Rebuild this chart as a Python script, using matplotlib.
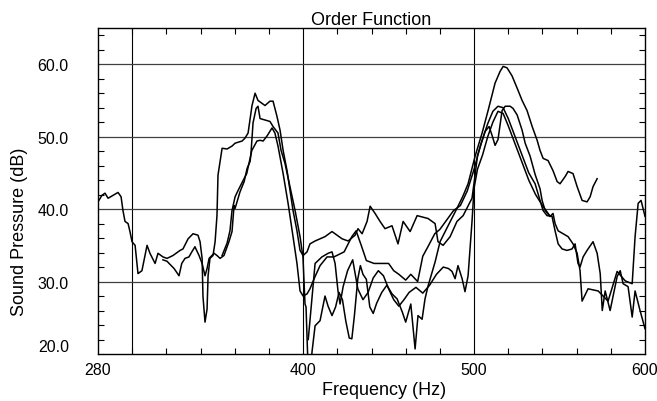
import matplotlib
matplotlib.use("Agg")
import matplotlib.pyplot as plt
from matplotlib.ticker import FormatStrFormatter, MultipleLocator, FixedLocator
import numpy as np

plt.rcParams['font.family'] = ['Liberation Sans', 'DejaVu Sans']

# curve A (starts at 280 Hz)
freq_a = [280.0, 282.3, 284.1, 285.9, 288.8, 291.7, 293.5, 294.6, 295.8, 297.6, 298.7, 299.9, 301.7, 303.4,
          305.7, 308.7, 310.4, 313.4, 315.1, 318.0, 320.4, 323.9, 328.0, 329.7, 332.7, 335.6, 338.5, 339.7,
          340.9, 341.4, 342.6, 343.8, 344.4, 345.5, 347.3, 348.5, 349.6, 350.2, 351.4, 352.6, 355.5, 358.4,
          360.2, 364.3, 366.0, 367.8, 368.9, 370.1, 371.9, 373.6, 376.0, 377.7, 380.6, 382.4, 384.7, 386.5,
          388.3, 390.6, 392.3, 394.1, 396.4, 398.2, 400.0, 402.3, 404.0, 407.0, 409.9, 412.8, 416.9, 419.8,
          422.8, 426.3, 430.4, 432.1, 434.5, 437.4, 439.2, 442.1, 445.0, 447.9, 452.0, 455.5, 458.5, 462.6,
          466.7, 473.1, 477.2, 478.9, 481.9, 486.0, 490.0, 493.6, 498.8, 500.5, 502.0, 504.7, 506.4, 508.8,
          510.5, 512.3, 514.0, 516.4, 518.2, 521.1, 522.8, 525.2, 528.1, 529.9, 532.8, 535.7, 538.6, 539.8,
          541.6, 544.5, 546.2, 547.4, 549.2, 552.1, 555.0, 557.9, 560.3, 562.0, 563.2, 566.7, 572.6, 578.4,
          583.7, 588.4, 592.5, 594.2, 596.0, 597.7, 600.0]
spl_a = [41.0, 41.9, 42.2, 41.5, 41.9, 42.3, 41.7, 39.8, 38.3, 38.0, 36.9, 35.5, 35.0, 31.1,
         31.5, 35.0, 33.9, 32.5, 33.9, 33.4, 33.2, 33.6, 34.3, 34.5, 35.9, 36.6, 36.4, 35.5,
         33.2, 28.0, 24.4, 26.2, 30.8, 33.2, 33.6, 35.5, 39.1, 44.7, 46.6, 48.4, 48.3, 48.7,
         49.1, 49.4, 49.8, 50.5, 52.3, 54.3, 56.0, 55.0, 54.6, 54.3, 54.9, 54.9, 52.8, 50.9,
         48.1, 45.3, 42.6, 39.8, 37.0, 34.3, 33.6, 34.1, 35.2, 35.6, 35.9, 36.2, 36.9, 36.4,
         35.9, 35.6, 36.4, 37.3, 36.6, 38.3, 40.4, 39.4, 38.3, 37.3, 37.7, 35.2, 38.3, 36.9,
         39.1, 38.7, 38.0, 35.5, 35.0, 36.2, 38.3, 39.1, 41.5, 44.5, 47.4, 49.4, 50.7, 51.4,
         50.2, 48.8, 49.6, 53.6, 54.2, 54.2, 53.9, 53.0, 50.9, 49.1, 47.3, 44.8, 42.8, 41.2,
         39.8, 39.0, 39.4, 38.0, 37.0, 36.6, 36.2, 35.2, 33.9, 31.5, 27.3, 29.0, 28.7, 27.3,
         31.4, 30.1, 29.7, 36.2, 40.8, 41.2, 39.0]

# curve B (tallest second peak, ends near 572 Hz)
freq_b = [318.0, 320.4, 321.6, 324.5, 327.4, 329.0, 330.9, 333.2, 334.9, 336.7, 339.1, 340.9, 342.6, 343.8,
          345.0, 347.9, 349.6, 351.4, 353.7, 356.6, 358.4, 359.6, 360.2, 363.1, 365.5, 367.2, 369.0, 369.5,
          370.7, 372.5, 373.6, 374.8, 377.7, 380.6, 382.4, 385.3, 387.1, 389.4, 392.3, 395.3, 398.2, 399.9,
          401.1, 401.7, 402.9, 404.0, 405.2, 407.0, 409.9, 412.8, 414.6, 416.9, 419.0, 421.0, 423.0, 425.0,
          427.0, 428.5, 430.0, 432.0, 433.5, 435.0, 437.0, 439.0, 441.0, 443.0, 446.0, 449.0, 452.0, 455.0,
          458.0, 460.0, 463.0, 465.5, 467.2, 469.6, 471.3, 473.1, 477.2, 480.1, 484.8, 490.0, 493.5, 496.5,
          500.6, 504.7, 508.2, 512.3, 515.2, 517.0, 519.3, 522.2, 525.2, 528.1, 531.0, 534.0, 536.9, 538.6,
          540.4, 543.3, 546.2, 548.6, 550.3, 553.3, 555.0, 557.9, 560.3, 563.2, 566.1, 567.9, 569.6, 572.0]
spl_b = [33.0, 32.8, 32.5, 31.8, 30.8, 32.5, 33.2, 33.4, 34.1, 34.8, 33.6, 32.5, 30.8, 31.8,
         33.2, 33.9, 33.6, 33.2, 33.6, 35.5, 36.9, 40.5, 40.1, 42.4, 43.8, 45.6, 46.6, 47.7,
         51.9, 53.9, 54.2, 52.5, 52.3, 52.1, 51.4, 50.5, 48.1, 46.3, 43.1, 39.8, 36.2, 33.4,
         26.9, 26.5, 18.0, 16.0, 20.3, 23.9, 24.6, 28.0, 26.6, 25.3, 26.5, 28.5, 27.5, 24.5,
         22.2, 22.1, 25.3, 30.4, 32.2, 31.0, 30.3, 26.5, 25.6, 27.0, 28.5, 29.5, 28.3, 27.6,
         25.8, 24.4, 26.9, 20.7, 25.3, 24.8, 27.6, 29.4, 32.7, 35.5, 37.7, 40.1, 41.8, 43.5,
         47.3, 50.5, 53.6, 57.4, 59.0, 59.7, 59.5, 58.4, 56.7, 55.0, 53.6, 51.4, 49.5, 48.1,
         47.0, 46.7, 45.3, 43.8, 43.5, 44.5, 45.2, 44.9, 43.1, 41.2, 41.0, 41.7, 43.1, 44.2]

# curve C (third first-peak curve, runs to 600 Hz)
freq_c = [352.6, 355.5, 357.2, 358.4, 360.2, 362.0, 365.0, 367.0, 370.0, 373.0, 374.8, 376.6, 378.9, 381.8,
          383.5, 385.3, 388.3, 391.2, 394.1, 396.4, 398.2, 400.0, 402.3, 404.0, 407.0, 409.9, 414.0, 418.0,
          424.0, 428.5, 431.0, 434.0, 437.0, 441.5, 450.0, 453.0, 456.0, 460.0, 463.0, 467.0, 470.0, 473.0,
          477.0, 480.0, 484.0, 488.0, 492.0, 496.0, 500.0, 504.0, 508.0, 511.0, 514.0, 517.0, 520.0, 524.0,
          528.0, 532.0, 535.7, 538.6, 540.4, 542.7, 545.6, 547.4, 549.2, 551.5, 554.4, 557.3, 559.1, 560.8,
          562.0, 563.8, 566.1, 569.6, 572.0, 573.8, 575.0, 576.7, 579.6, 583.7, 585.5, 587.2, 590.1, 592.5,
          594.2, 597.1, 600.0]
spl_c = [33.6, 35.3, 37.0, 39.8, 41.7, 42.6, 44.0, 44.9, 48.1, 49.4, 49.5, 49.4, 50.1, 51.2,
         50.5, 48.7, 44.9, 40.8, 36.2, 32.5, 28.7, 28.0, 28.3, 29.0, 30.7, 32.2, 33.4, 33.4,
         34.1, 36.2, 37.0, 35.0, 32.9, 32.5, 32.5, 31.5, 31.0, 30.2, 31.0, 30.0, 33.5, 34.8,
         36.6, 37.2, 38.5, 39.8, 40.5, 42.5, 45.5, 49.0, 51.8, 53.5, 54.2, 54.0, 52.5, 50.0,
         47.5, 45.0, 43.5, 41.2, 39.8, 39.1, 39.0, 37.0, 35.2, 34.5, 34.3, 34.5, 35.2, 32.5,
         32.0, 33.4, 34.3, 35.5, 33.9, 31.1, 26.0, 28.7, 26.0, 30.7, 31.5, 29.7, 29.3, 25.1,
         28.7, 26.0, 23.5]

# curve D (starts near 400 Hz, merges near 545 Hz)
freq_d = [403.0, 407.0, 411.0, 414.6, 416.9, 418.7, 420.4, 421.6, 423.4, 426.0, 429.0, 432.0, 435.0, 438.0,
          441.0, 444.0, 447.0, 450.0, 453.0, 456.0, 459.0, 462.0, 466.0, 470.0, 474.0, 478.0, 482.0, 485.0,
          487.1, 488.9, 490.6, 493.0, 494.7, 496.5, 498.8, 500.0, 502.0, 505.0, 508.0, 511.0, 514.0, 517.0,
          520.0, 524.0, 528.0, 532.0, 536.0, 540.0, 544.5]
spl_d = [22.0, 32.5, 33.4, 33.9, 34.1, 32.5, 28.7, 26.9, 29.3, 31.5, 33.0, 29.0, 27.5, 28.5,
         30.5, 31.5, 30.8, 29.0, 27.5, 26.6, 27.5, 28.5, 29.2, 28.4, 29.5, 31.0, 32.0, 31.8,
         31.4, 30.4, 32.2, 30.4, 28.6, 30.8, 38.3, 42.9, 45.5, 47.5, 50.0, 52.0, 53.5, 53.2,
         51.5, 49.0, 46.5, 44.0, 42.0, 40.5, 39.0]

xgrid = [300, 400, 500]
ygrid = [30, 40, 50, 60]
xticks = [280, 400, 500, 600]
yticks = [20, 30, 40, 50, 60]

fig = plt.figure(figsize=(6.57, 4.02), dpi=100)
ax = fig.add_axes([98/657, 1-355/402, 547/657, 326/402])

for v in xgrid:
    ax.axvline(v, color='black', lw=0.8, zorder=1)
for v in ygrid:
    ax.axhline(v, color='#404040', lw=0.9, zorder=1)

for f, s in [(freq_a, spl_a), (freq_b, spl_b), (freq_c, spl_c), (freq_d, spl_d)]:
    ax.plot(f, s, color='black', lw=1.1, zorder=2)

ax.set_xlim(280, 600)
ax.set_ylim(20, 65)
ax.xaxis.set_major_locator(FixedLocator(xticks))
ax.xaxis.set_minor_locator(FixedLocator(list(range(300, 600, 20))))
ax.yaxis.set_major_locator(FixedLocator(yticks))
ax.yaxis.set_minor_locator(MultipleLocator(2))
ax.yaxis.set_major_formatter(FormatStrFormatter('%.1f'))

ax.tick_params(which='both', direction='in', top=True, right=True, width=0.8, colors='black')
ax.tick_params(which='major', length=0, labelsize=11.5)
ax.tick_params(axis='y', which='major', pad=21)
ax.tick_params(axis='x', which='major', pad=6)
ax.tick_params(which='minor', length=4)
ax.tick_params(axis='x', which='minor', top=True, bottom=True)
ax.get_yticklabels()[0].set_verticalalignment('bottom')

for sp in ax.spines.values():
    sp.set_linewidth(1.0)
    sp.set_color('black')

ax.set_xlabel('Frequency (Hz)', fontsize=13)
ax.set_ylabel('Sound Pressure (dB)', fontsize=13)
ax.xaxis.set_label_coords(0.523, -0.083)
ax.yaxis.set_label_coords(-0.128, 0.377)
ax.set_title('Order Function', fontsize=13, pad=2)

fig.savefig('out.png', dpi=100)
